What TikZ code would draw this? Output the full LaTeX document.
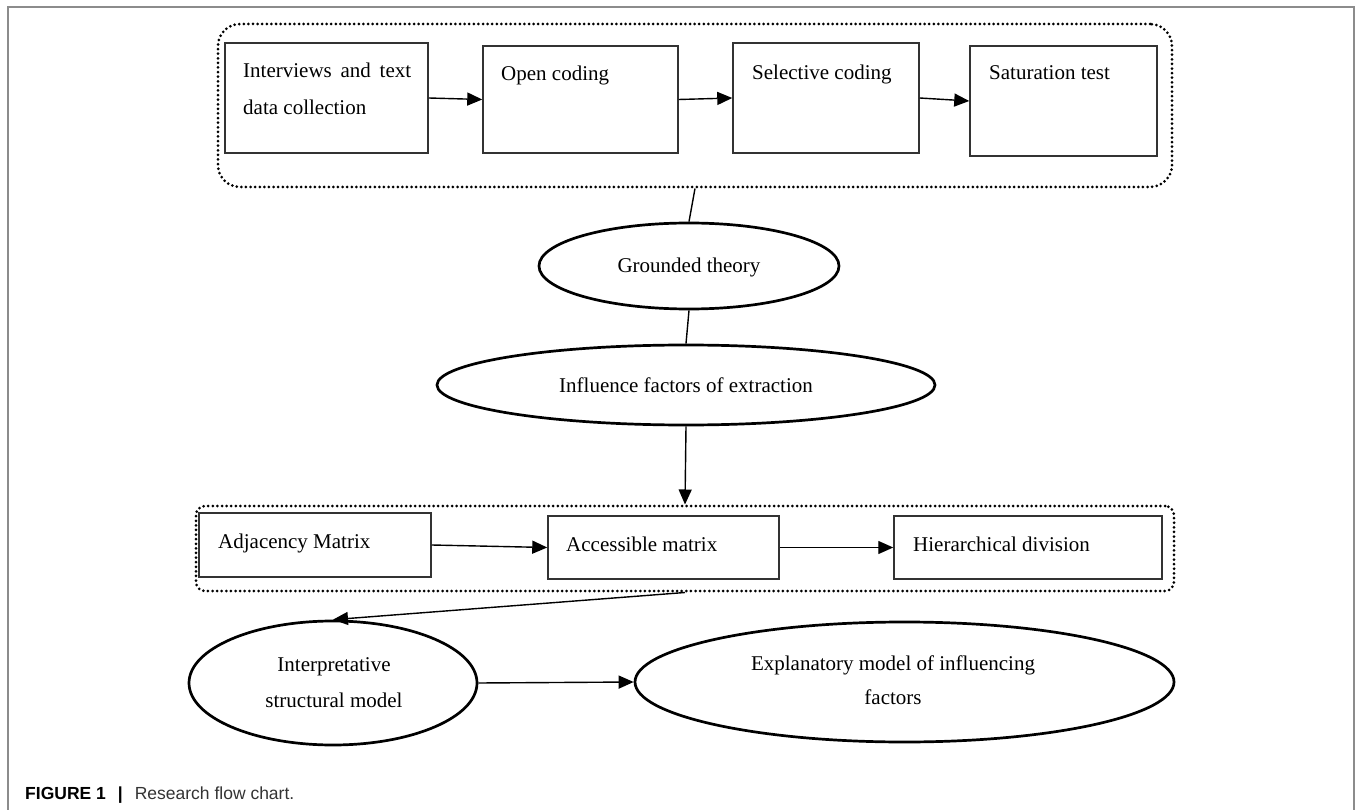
\documentclass[tikz,border=0pt]{standalone}
\usepackage{fontspec}
\setmainfont{Liberation Serif}
\setsansfont{Liberation Sans}
\usetikzlibrary{shapes.geometric,arrows.meta}
\begin{document}
\begin{tikzpicture}[x=1pt,y=-1pt,
  box/.style={draw=black!80, line width=1.5pt, rectangle, inner sep=0pt},
  oval/.style={draw=black, line width=2.7pt, ellipse, inner sep=0pt},
  frm/.style={draw=black, line width=3pt, dash pattern=on 0pt off 4.6pt, line cap=round, rectangle, inner sep=0pt},
  arr/.style={-{Triangle[length=15pt,width=13pt]}, line width=1.4pt},
  conn/.style={line width=1.4pt},
  txt/.style={anchor=base west, inner sep=0pt, font=\fontsize{21}{25}\selectfont},
  ctxt/.style={anchor=base, inner sep=0pt, font=\fontsize{21}{25}\selectfont}]
\useasboundingbox (0,0) rectangle (1355,810);
% outer frame
\draw[line width=1.6pt, black!45] (8,810) -- (8,7) -- (1354,7) -- (1354,810);

% top group
\node[frm, rounded corners=22pt, minimum width=954pt, minimum height=163pt] (f1) at (695,105.5) {};
\node[box, minimum width=203pt, minimum height=110pt] (b1) at (326.5,98) {};
\node[box, minimum width=195pt, minimum height=107pt] (b2) at (580.5,99.5) {};
\node[box, minimum width=186pt, minimum height=110pt] (b3) at (826,98) {};
\node[box, minimum width=187pt, minimum height=110pt] (b4) at (1063.5,101) {};
\node[txt] (t1a) at (243,78) {\makebox[168pt][s]{Interviews and text}};
\node[txt] (t1b) at (243,115) {data collection};
\node[txt] (t2) at (501,81) {Open coding};
\node[txt] (t3) at (752,80) {Selective coding};
\node[txt] (t4) at (989,80) {Saturation test};
\draw[arr] (b1.east) -- (b2.west);
\draw[arr] (b2.east) -- (b3.west);
\draw[arr] (b3.east) -- (b4.west);

% ellipses
\node[oval, minimum width=300pt, minimum height=86pt] (g) at (689,266) {};
\node[ctxt] (gt) at (689,273) {Grounded theory};
\node[oval, minimum width=498pt, minimum height=80pt] (inf) at (686,385) {};
\node[ctxt] (it) at (686,392) {Influence factors of extraction};
\draw[conn] (f1.south) -- (g.north);
\draw[conn] (g.south) -- (inf.north);

% bottom group
\node[frm, rounded corners=9pt, minimum width=978pt, minimum height=85pt] (f2) at (685,548.5) {};
\node[box, minimum width=232pt, minimum height=64pt] (adj) at (315,545) {};
\node[box, minimum width=231pt, minimum height=63pt] (acc) at (663.5,547.5) {};
\node[box, minimum width=268pt, minimum height=63pt] (hier) at (1028,547.5) {};
\node[txt] (at) at (218,548) {Adjacency Matrix};
\node[txt] (act) at (566,551) {Accessible matrix};
\node[txt] (ht) at (913,551) {Hierarchical division};
\draw[arr] (inf.south) -- (f2.north);
\draw[arr] (adj.east) -- (acc.west);
\draw[arr] (acc.east) -- (hier.west);

% bottom ellipses
\node[oval, minimum width=288pt, minimum height=124pt] (interp) at (333,683) {};
\node[ctxt] (ip1) at (334,671) {Interpretative};
\node[ctxt] (ip2) at (334,707) {structural model};
\node[oval, minimum width=539pt, minimum height=120pt] (expl) at (904.5,682) {};
\node[ctxt] (ex1) at (893,670) {Explanatory model of influencing};
\node[ctxt] (ex2) at (893,704) {factors};
\draw[arr] (f2.south) -- (interp.north);
\draw[arr] (interp.east) -- (expl.west);

% caption
\node[anchor=base west, inner sep=0pt, font=\fontsize{17.5}{20}\selectfont\sffamily] (cap) at (25,799)
  {\textbf{FIGURE 1}\hspace{12pt}\textbf{|}\hspace{12pt}{\color{black!80}Research flow chart.}};
\end{tikzpicture}
\end{document}
